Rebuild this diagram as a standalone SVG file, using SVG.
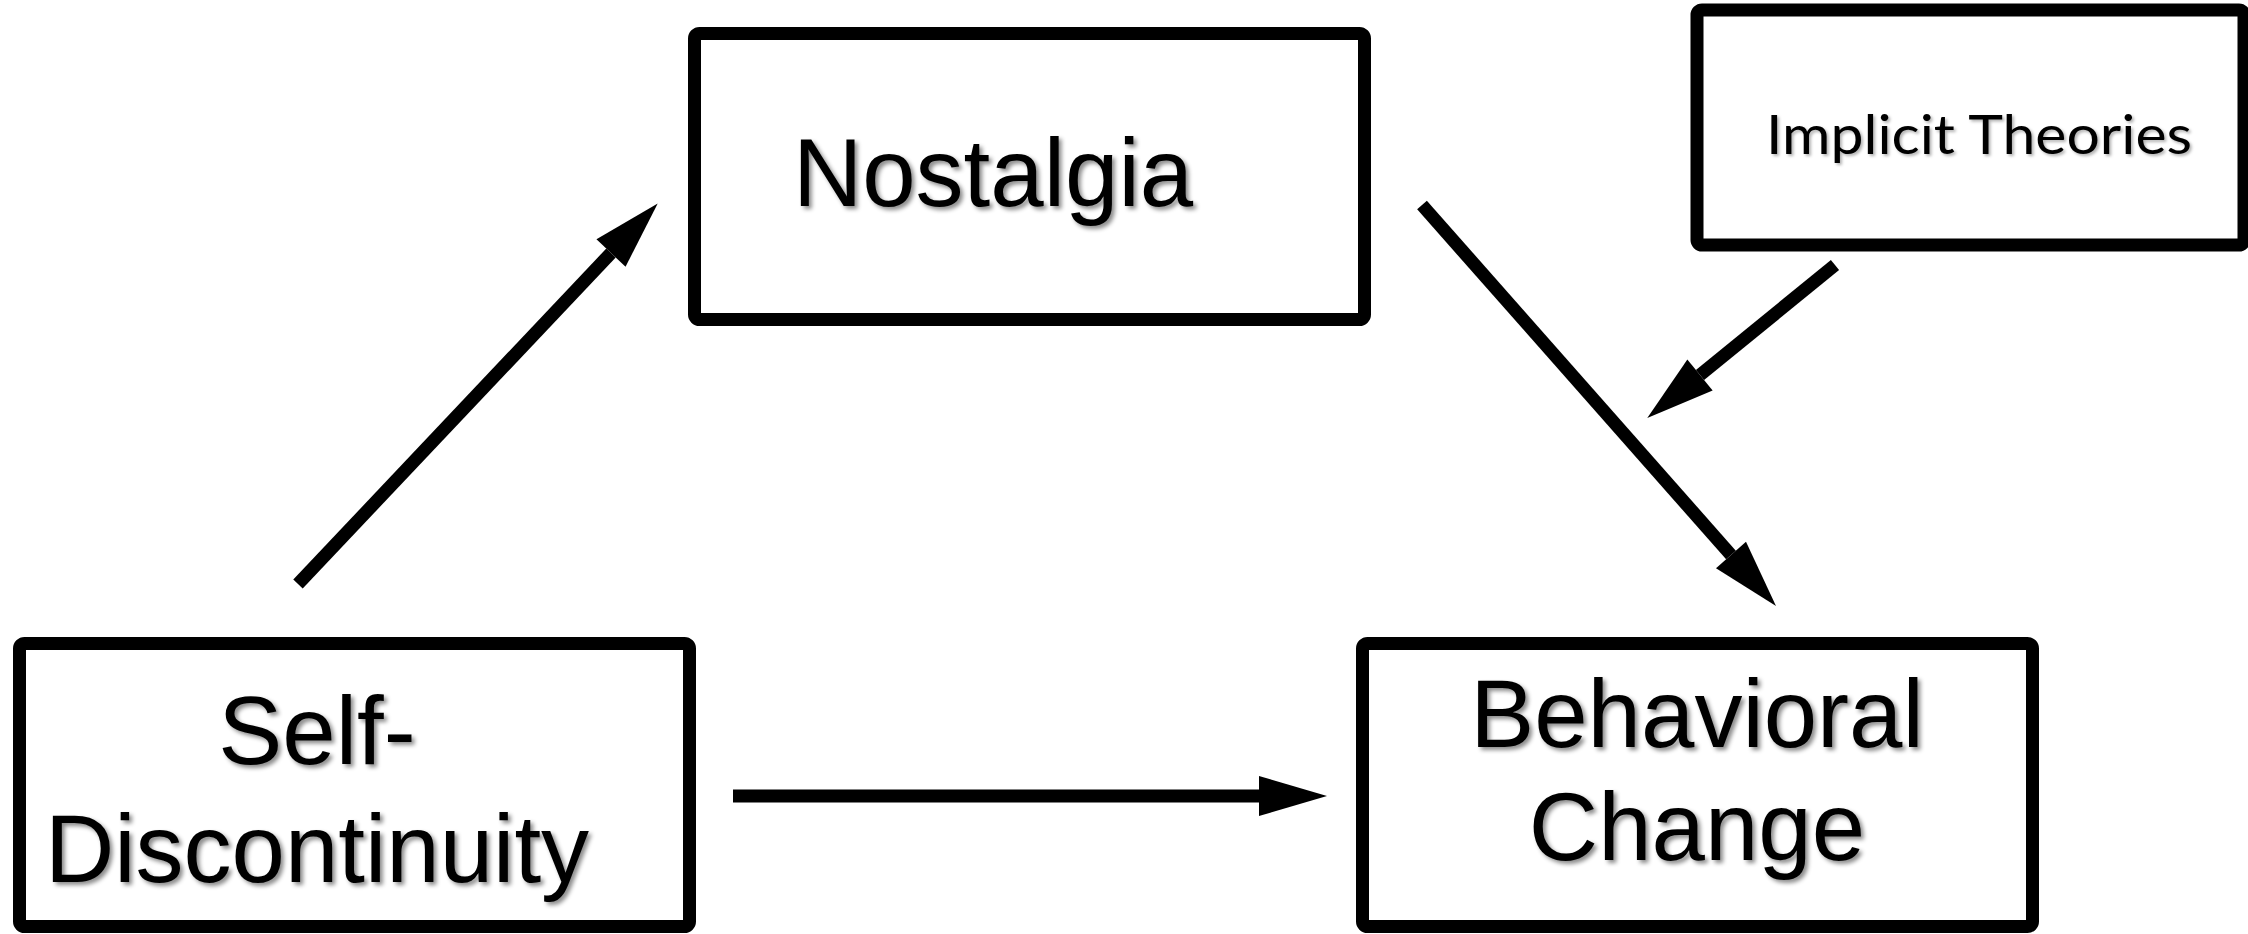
<svg xmlns="http://www.w3.org/2000/svg" width="2248" height="934" viewBox="0 0 2248 934">
<style>
.box{fill:#fff;stroke:#000;stroke-width:13;}
.lbl{font-family:"Liberation Sans",Arial,sans-serif;font-size:96px;fill:#000;text-anchor:middle;filter:url(#sh);}
.lbl2{font-family:Lato,"Liberation Sans",sans-serif;font-size:54px;fill:#000;text-anchor:middle;filter:url(#sh2);}
.conn{stroke:#000;stroke-width:13;fill:none;marker-end:url(#ah);}
</style>
<defs>
<filter id="sh" x="-10%" y="-20%" width="130%" height="150%">
<feDropShadow dx="3" dy="3" stdDeviation="2" flood-color="#000" flood-opacity="0.45"/>
</filter>
<filter id="sh2" x="-10%" y="-20%" width="130%" height="150%">
<feDropShadow dx="2" dy="2" stdDeviation="1.5" flood-color="#000" flood-opacity="0.3"/>
</filter>
<marker id="ah" markerUnits="userSpaceOnUse" markerWidth="70" markerHeight="42" refX="0" refY="20" orient="auto" overflow="visible">
<path d="M0,0 L68,20 L0,40 Z" fill="#000"/>
</marker>
</defs>
<rect width="2248" height="934" fill="#fff"/>
<g id="connectors">
<line class="conn" x1="298" y1="584" x2="611" y2="253"/>
<line class="conn" x1="1422" y1="205" x2="1731" y2="555"/>
<line class="conn" x1="1835" y1="265" x2="1700" y2="375"/>
<line class="conn" x1="733" y1="796" x2="1259" y2="796"/>
</g>
<g id="nostalgia">
<rect class="box" x="694.5" y="33.5" width="670" height="286" rx="5"/>
<text class="lbl" x="993" y="206">Nostalgia</text>
</g>
<g id="implicit-theories">
<rect class="box" x="1697" y="10" width="547" height="235" rx="5"/>
<text class="lbl2" x="1979" y="154" textLength="426" lengthAdjust="spacingAndGlyphs">Implicit Theories</text>
</g>
<g id="self-discontinuity">
<rect class="box" x="19.5" y="643.5" width="670" height="283" rx="5"/>
<text class="lbl" x="317" y="764">Self-</text>
<text class="lbl" x="317" y="882">Discontinuity</text>
</g>
<g id="behavioral-change">
<rect class="box" x="1362.5" y="643.5" width="670" height="283" rx="5"/>
<text class="lbl" x="1697" y="747">Behavioral</text>
<text class="lbl" x="1697" y="860">Change</text>
</g>
</svg>
